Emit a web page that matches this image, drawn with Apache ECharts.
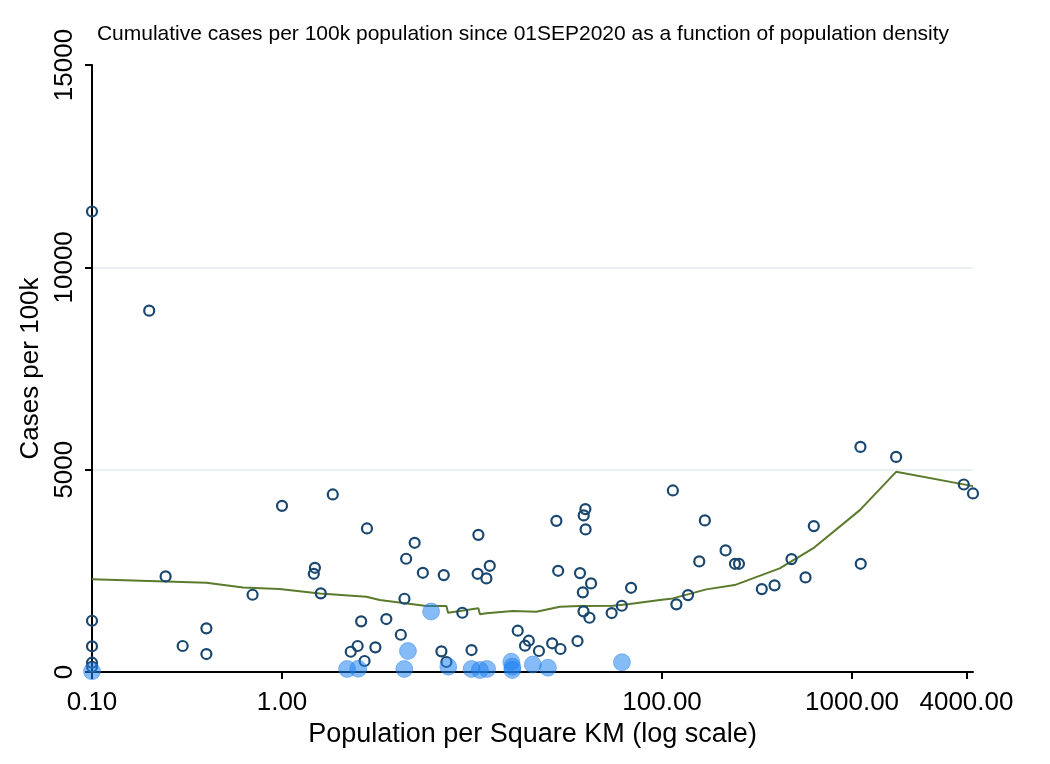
<!DOCTYPE html>
<html>
<head>
<meta charset="utf-8">
<script src="https://cdn.jsdelivr.net/npm/echarts@6/dist/echarts.min.js"></script>
<style>html,body{margin:0;padding:0;background:#fff}#c{width:1050px;height:764px}</style>
</head>
<body>
<div id="c"></div>
<script>
// Hollow markers: population density (per sq km) and cases per 100k
const hollowX = [0.1, 0.20, 1.0, 1.85, 2.80, 0.244, 1.49, 1.47, 0.70, 1.60, 0.1, 2.61, 0.1, 0.30, 0.40, 0.40, 2.50, 2.30, 2.72, 3.10, 0.1, 0.1,
  4.99, 4.50, 5.51, 7.10, 4.41, 8.89, 3.54, 4.22, 6.90, 7.33, 9.94, 10.8, 10.7, 12.4, 11.9, 17.4, 19.9, 19.0, 22.5, 26.4, 29.2, 35.9,
  27.8, 39.5, 38.7, 39.6, 28.4, 37.0, 42.3, 38.3, 38.6, 41.5, 54.3, 61.4, 68.7, 114, 119, 137, 157, 168, 216, 242, 254, 335, 391, 480,
  569, 629, 1107, 1111, 1706, 3873, 4330];
const hollowY = [11380, 8930, 4106, 4387, 3547, 2363, 2575, 2427, 1909, 1943, 1267, 1252, 635, 642, 1079, 444, 642, 501, 272, 610, 230, 130,
  3193, 2798, 2452, 2395, 1810, 1464, 1309, 921, 511, 247, 543, 3390, 2427, 2625, 2313, 1020, 773, 650, 519, 709, 568, 765,
  3736, 4025, 3869, 3523, 2501, 2444, 2190, 1968, 1499, 1341, 1457, 1637, 2081, 4486, 1672, 1901, 2733, 3746, 3005, 2674, 2674, 2049, 2141, 2790,
  2338, 3605, 5563, 2674, 5316, 4634, 4412];
// Filled markers
const filledX = [0.1, 6.09, 4.60, 2.20, 2.52, 4.40, 7.50, 9.94, 11.0, 12.0, 16.1, 16.3, 16.3, 20.9, 25.1, 61.5];
const filledY = [20, 1496, 519, 74, 80, 74, 131, 74, 49, 74, 254, 131, 49, 185, 106, 240];
// Smoothed line
const lineX = [0.1, 0.40, 0.624, 0.97, 1.58, 2.78, 3.27, 5.75, 7.33, 7.48, 10.8, 11.0, 11.9, 16.4, 21.8, 29.0, 36.9, 55.2, 67.6, 97.3, 114, 171, 241, 416, 623, 1099, 1706, 4330];
const lineY = [2289, 2205, 2091, 2049, 1942, 1860, 1778, 1630, 1630, 1464, 1573, 1425, 1449, 1506, 1489, 1612, 1630, 1637, 1679, 1778, 1819, 2042, 2148, 2560, 3054, 4000, 4946, 4593];
const xTicks = [0.1, 1, 100, 1000, 4000];
const xMin = 0.1, xMax = 4330;
const yTicks = [0, 5000, 10000, 15000];

const L = v => Math.log10(v);
const zip = (xs, ys) => xs.map((x, i) => [L(x), ys[i]]);
const font = 'Liberation Sans, Arial, sans-serif';

const chart = echarts.init(document.getElementById('c'), null, {renderer: 'canvas'});
chart.setOption({
  animation: false,
  backgroundColor: '#fff',
  title: {
    text: 'Cumulative cases per 100k population since 01SEP2020 as a function of population density',
    left: 518, top: 19, textAlign: 'center',
    textStyle: {fontFamily: font, fontSize: 21, fontWeight: 'normal', color: '#000'}
  },
  grid: {left: 92, right: 77, top: 65, bottom: 92, containLabel: false},
  xAxis: {
    type: 'value', min: L(xMin), max: L(xMax),
    name: 'Population per Square KM (log scale)', nameLocation: 'middle', nameGap: 42,
    nameTextStyle: {fontFamily: font, fontSize: 27, color: '#000'},
    axisLine: {show: true, onZero: false, lineStyle: {color: '#000', width: 2}},
    axisTick: {show: true, length: 7, lineStyle: {color: '#000', width: 2}, customValues: xTicks.map(L)},
    axisLabel: {fontFamily: font, fontSize: 26, color: '#000', margin: 18,
      customValues: xTicks.map(L), formatter: v => Math.pow(10, v).toFixed(2)},
    splitLine: {show: false}
  },
  yAxis: {
    type: 'value', min: yTicks[0], max: yTicks[yTicks.length - 1], interval: 5000,
    name: 'Cases per 100k', nameLocation: 'middle', nameGap: 42,
    nameTextStyle: {fontFamily: font, fontSize: 26, color: '#000'},
    axisLine: {show: true, onZero: false, lineStyle: {color: '#000', width: 2}},
    axisTick: {show: true, length: 7, lineStyle: {color: '#000', width: 2}},
    axisLabel: {fontFamily: font, fontSize: 26, color: '#000', rotate: 90, margin: 14,
      formatter: v => String(v)},
    splitLine: {show: true, showMinLine: false, showMaxLine: false, lineStyle: {color: '#e9f0f2', width: 2}}
  },
  series: [
    {type: 'line', data: zip(lineX, lineY), showSymbol: false, symbol: 'none', z: 1,
      lineStyle: {color: '#5b7a2c', width: 2}},
    {type: 'scatter', data: zip(hollowX, hollowY), symbol: 'circle', symbolSize: 10, z: 2,
      itemStyle: {color: 'rgba(255,255,255,0)', borderColor: '#1a476f', borderWidth: 2.2, opacity: 1}},
    {type: 'scatter', data: zip(filledX, filledY), symbol: 'circle', symbolSize: 17, z: 3,
      itemStyle: {color: 'rgba(30,130,240,0.68)', borderColor: 'rgba(30,120,230,0.5)', borderWidth: 1}}
  ]
});
</script>
</body>
</html>
